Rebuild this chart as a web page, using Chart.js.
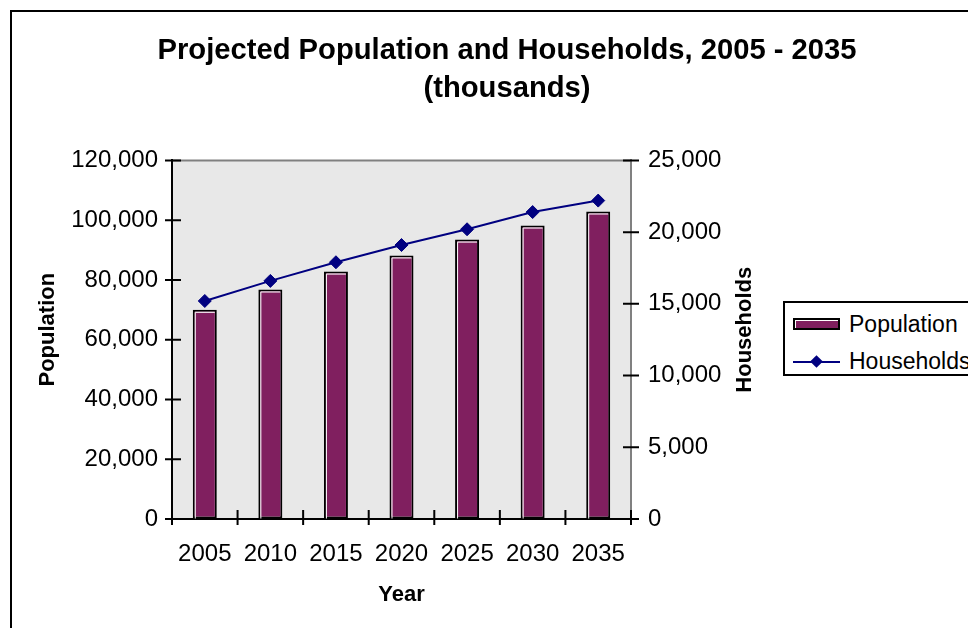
<!DOCTYPE html>
<html lang="en">
<head>
    <meta charset="UTF-8">
    <title>Projected Population and Households, 2005 - 2035</title>
    <script src="https://cdn.jsdelivr.net/npm/chart.js"></script>
    <style>
        body {
            margin: 0;
            width: 968px;
            height: 628px;
            overflow: hidden;
            background: #ffffff;
            font-family: "Liberation Sans", Arial, sans-serif;
            position: relative;
        }
        #frame {
            position: absolute;
            left: 10px;
            top: 10px;
            width: 1100px;
            height: 800px;
            border: 2px solid #000;
        }
        #chart {
            position: absolute;
            left: 0;
            top: 0;
        }
        #legend {
            position: absolute;
            left: 783px;
            top: 301px;
            width: 300px;
            height: 71px;
            border: 2px solid #000;
            background: #fff;
        }
        .item {
            position: absolute;
            left: 8px;
            height: 30px;
            font-size: 23px;
            line-height: 30px;
            color: #000;
        }
        .item span {
            position: absolute;
            left: 56px;
            top: -1px;
            white-space: nowrap;
        }
        .swatch {
            position: absolute;
            left: 0;
            top: 8px;
            width: 43px;
            height: 8px;
            border: 2px solid #000;
            box-shadow: inset 1px 1px 0 #fff;
        }
        .lineKey {
            position: absolute;
            left: 0;
            top: 14px;
            width: 47px;
            height: 2px;
        }
        .diamond {
            position: absolute;
            left: 19px;
            top: -4px;
            width: 9px;
            height: 9px;
            transform: rotate(45deg);
        }
    </style>
</head>
<body>
    <div id="frame"></div>
    <canvas id="chart" width="968" height="628"></canvas>
    <div id="legend"></div>
    <script>
        const years = ['2005', '2010', '2015', '2020', '2025', '2030', '2035'];
        const population = [70000, 76800, 82800, 88200, 93500, 98200, 102900];
        const households = [15200, 16600, 17900, 19100, 20200, 21400, 22200];
        const populationTicks = [0, 20000, 40000, 60000, 80000, 100000, 120000];
        const householdTicks = [0, 5000, 10000, 15000, 20000, 25000];

        const FONT = '"Liberation Sans", Arial, sans-serif';
        const BAR_COLOR = '#801f5f';
        const LINE_COLOR = '#000080';

        // gray plot area with the gray top edge
        const plotBackground = {
            id: 'plotBackground',
            beforeDraw(chart) {
                const { ctx, chartArea: a } = chart;
                ctx.save();
                ctx.fillStyle = '#e8e8e8';
                ctx.fillRect(a.left, a.top, a.right - a.left, a.bottom - a.top);
                ctx.strokeStyle = '#808080';
                ctx.lineWidth = 2;
                ctx.beginPath();
                ctx.moveTo(a.left, a.top);
                ctx.lineTo(a.right, a.top);
                ctx.stroke();
                ctx.restore();
            }
        };

        // white highlight inside the bar borders
        const barHighlight = {
            id: 'barHighlight',
            afterDatasetDraw(chart, args) {
                if (args.meta.type !== 'bar') return;
                const ctx = chart.ctx;
                ctx.save();
                ctx.strokeStyle = '#ffffff';
                ctx.lineWidth = 1;
                args.meta.data.forEach(bar => {
                    const p = bar.getProps(['x', 'y', 'width', 'base'], true);
                    const left = p.x - p.width / 2;
                    ctx.beginPath();
                    ctx.moveTo(left + 2.5, p.base);
                    ctx.lineTo(left + 2.5, p.y + 2.5);
                    ctx.lineTo(left + p.width - 2, p.y + 2.5);
                    ctx.stroke();
                });
                ctx.restore();
            }
        };

        // tick marks that cross the axis lines
        const crossTicks = {
            id: 'crossTicks',
            afterDraw(chart) {
                const { ctx, chartArea: a, scales } = chart;
                ctx.save();
                ctx.strokeStyle = '#000';
                ctx.lineWidth = 2;
                ctx.beginPath();
                for (let i = 0; i <= years.length; i++) {
                    const px = scales.x.getPixelForValue(i - 0.5);
                    ctx.moveTo(px, a.bottom - 9);
                    ctx.lineTo(px, a.bottom + 6);
                }
                scales.y.ticks.forEach(t => {
                    const py = scales.y.getPixelForValue(t.value);
                    ctx.moveTo(a.left - 7, py);
                    ctx.lineTo(a.left + 9, py);
                });
                scales.y1.ticks.forEach(t => {
                    const py = scales.y1.getPixelForValue(t.value);
                    ctx.moveTo(a.right - 8, py);
                    ctx.lineTo(a.right + 8, py);
                });
                ctx.stroke();
                ctx.restore();
            }
        };

        // both axis titles read bottom to top and sit a little above the middle
        const axisTitles = {
            id: 'axisTitles',
            afterDraw(chart) {
                const { ctx, chartArea: a } = chart;
                const mid = (a.top + a.bottom) / 2 - 10;
                ctx.save();
                ctx.font = 'bold 22px ' + FONT;
                ctx.fillStyle = '#000';
                ctx.textAlign = 'center';
                ctx.textBaseline = 'middle';
                [['Population', a.left - 124], ['Households', a.right + 114]].forEach(([text, x]) => {
                    ctx.save();
                    ctx.translate(x, mid);
                    ctx.rotate(-Math.PI / 2);
                    ctx.fillText(text, 0, 0);
                    ctx.restore();
                });
                ctx.restore();
            }
        };

        const chart = new Chart(document.getElementById('chart'), {
            data: {
                labels: years,
                datasets: [{
                    type: 'bar',
                    label: 'Population',
                    data: population,
                    yAxisID: 'y',
                    backgroundColor: BAR_COLOR,
                    borderColor: '#000',
                    borderWidth: 2,
                    borderSkipped: false,
                    barPercentage: 0.366,
                    categoryPercentage: 1,
                    order: 2
                }, {
                    type: 'line',
                    label: 'Households',
                    data: households,
                    yAxisID: 'y1',
                    borderColor: LINE_COLOR,
                    backgroundColor: LINE_COLOR,
                    borderWidth: 2,
                    pointStyle: 'rectRot',
                    pointRadius: 6.5,
                    pointBorderWidth: 1,
                    tension: 0,
                    order: 1
                }]
            },
            options: {
                responsive: false,
                animation: false,
                layout: { padding: { left: 24, right: -22, top: 0, bottom: 19 } },
                plugins: {
                    legend: { display: false },
                    tooltip: { enabled: false },
                    title: {
                        display: true,
                        text: ['Projected Population and Households, 2005 - 2035', '(thousands)'],
                        color: '#000',
                        font: { family: FONT, size: 29.2, weight: 'bold', lineHeight: 1.3 },
                        padding: { top: 32, bottom: 52.5 }
                    }
                },
                scales: {
                    x: {
                        offset: true,
                        grid: { offset: true, drawOnChartArea: false, drawTicks: false },
                        border: { display: true, color: '#000', width: 2 },
                        ticks: { color: '#000', padding: 21, font: { family: FONT, size: 24 } },
                        title: {
                            display: true, text: 'Year', color: '#000',
                            font: { family: FONT, size: 22, weight: 'bold' },
                            padding: { top: 0, bottom: 1 }
                        },
                        afterFit(s) { s.height = 90; }
                    },
                    y: {
                        position: 'left',
                        min: 0,
                        max: 120000,
                        grid: { drawOnChartArea: false, drawTicks: false },
                        border: { display: true, color: '#000', width: 2 },
                        afterBuildTicks(s) { s.ticks = populationTicks.map(v => ({ value: v })); },
                        ticks: {
                            color: '#000', padding: 14,
                            font: { family: FONT, size: 24 },
                            callback: v => v.toLocaleString('en-US')
                        },
                        afterFit(s) { s.width = 148; }
                    },
                    y1: {
                        position: 'right',
                        min: 0,
                        max: 25000,
                        grid: { drawOnChartArea: false, drawTicks: false },
                        border: { display: true, color: '#808080', width: 2 },
                        afterBuildTicks(s) { s.ticks = householdTicks.map(v => ({ value: v })); },
                        ticks: {
                            color: '#000', padding: 17,
                            font: { family: FONT, size: 24 },
                            callback: v => v.toLocaleString('en-US')
                        },
                        afterFit(s) { s.width = 968 + 22 - 631; }
                    }
                }
            },
            plugins: [plotBackground, barHighlight, crossTicks, axisTitles]
        });

        // legend outside the canvas, it runs past the right edge like the reference
        const legend = document.getElementById('legend');
        chart.data.datasets.forEach((ds, i) => {
            const item = document.createElement('div');
            item.className = 'item';
            item.style.top = (7 + i * 37) + 'px';
            if (ds.type === 'bar') {
                item.innerHTML = '<div class="swatch" style="background:' + ds.backgroundColor + '"></div>';
            } else {
                item.innerHTML = '<div class="lineKey" style="background:' + ds.borderColor + '">' +
                    '<div class="diamond" style="background:' + ds.backgroundColor + '"></div></div>';
            }
            const label = document.createElement('span');
            label.textContent = ds.label;
            item.appendChild(label);
            legend.appendChild(item);
        });
    </script>
</body>
</html>
